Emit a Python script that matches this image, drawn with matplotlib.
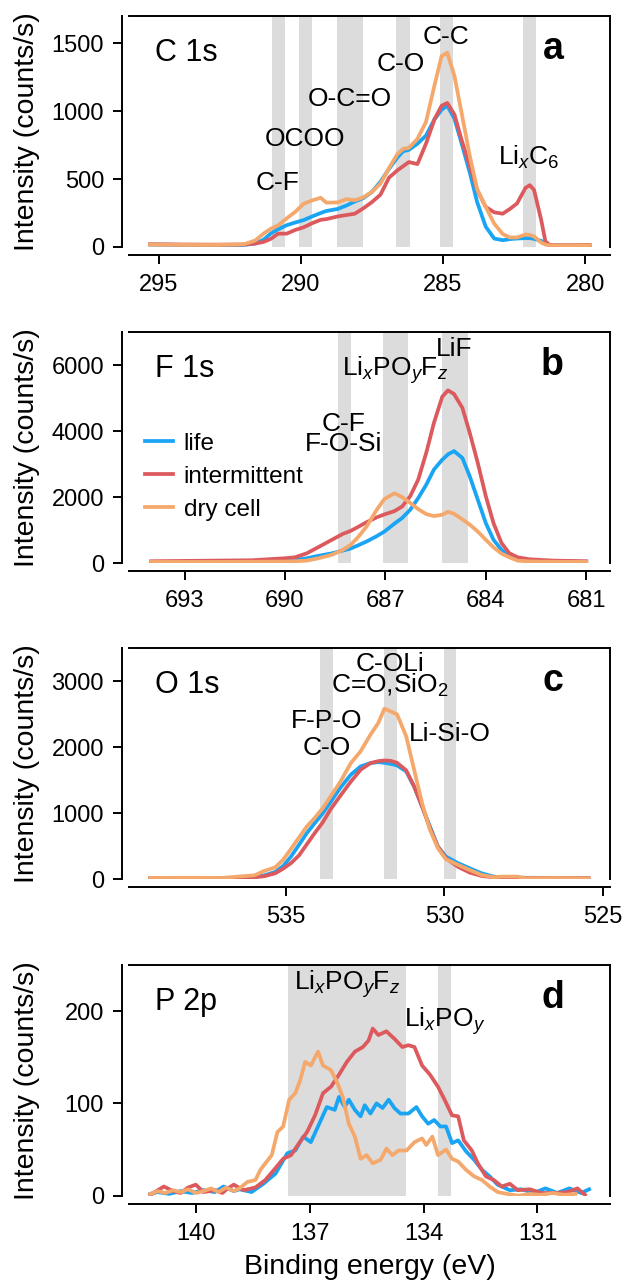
import matplotlib.pyplot as plt

plt.rcParams["font.family"] = ["Liberation Sans", "DejaVu Sans"]
plt.rcParams["mathtext.fontset"] = "custom"
plt.rcParams["mathtext.rm"] = "Liberation Sans"
plt.rcParams["mathtext.it"] = "Liberation Sans:italic"
plt.rcParams["mathtext.bf"] = "Liberation Sans:bold"

BLUE = "#19a4f4"
RED = "#dc5a5d"
ORANGE = "#f5a86b"
BAND = "#dcdcdc"

# ---------------- C 1s ----------------
c1s_energy = [295.3, 294, 293, 292, 291.6, 291.3, 291.05, 290.8, 290.5, 290.2,
              289.9, 289.6, 289.3, 289.1, 288.7, 288.4, 288.1, 287.8, 287.5, 287.2,
              286.9, 286.6, 286.4, 286.2, 285.9, 285.6, 285.3, 285.05, 284.85, 284.6,
              284.35, 284.05, 283.8, 283.5, 283.2, 282.9, 282.65, 282.4, 282.1, 281.95,
              281.8, 281.55, 281.4, 281.25, 281, 280.5, 279.85]
c1s_life = [18, 15, 14, 15, 25, 55, 100, 130, 160, 180,
            198, 225, 250, 265, 280, 305, 335, 360, 405, 480,
            575, 660, 705, 715, 760, 820, 940, 1010, 1040, 945,
            765, 540, 330, 150, 62, 50, 58, 62, 65, 65,
            60, 45, 25, 15, 12, 12, 12]
c1s_intermittent = [20, 18, 17, 18, 25, 38, 60, 98, 98, 125,
                    145, 175, 200, 205, 225, 235, 245, 285, 330, 385,
                    510, 565, 595, 625, 610, 760, 940, 1040, 1060, 975,
                    790, 590, 420, 295, 255, 245, 280, 320, 435, 455,
                    420, 200, 40, 15, 13, 13, 15]
c1s_dry = [18, 15, 15, 20, 48, 100, 135, 158, 210, 258,
           318, 343, 362, 326, 328, 352, 344, 366, 405, 467,
           580, 685, 722, 730, 795, 920, 1190, 1405, 1430, 1260,
           990, 660, 425, 295, 172, 95, 70, 70, 92, 88,
           78, 32, 18, 12, 12, 12, 12]
c1s_bands = [(291.02, 290.56), (290.07, 289.61), (288.73, 287.82),
             (286.66, 286.17), (285.11, 284.66), (282.2, 281.74)]
c1s_labels = [("C-F", 290.81, 420), ("OCOO", 289.86, 744), ("O-C=O", 288.28, 1038),
              ("C-O", 286.48, 1296), ("C-C", 284.90, 1495),
              ("Li$_{x}$C$_{6}$", 281.99, 604)]

# ---------------- F 1s ----------------
f1s_energy = [694.0, 693, 692, 691, 690, 689.7, 689.35, 689.0, 688.6, 688.27,
              688.04, 687.8, 687.56, 687.26, 687.03, 686.73, 686.5, 686.26, 686.02, 685.78,
              685.55, 685.3, 685.13, 684.95, 684.7, 684.48, 684.24, 684.0, 683.77, 683.53,
              683.3, 683.05, 682.7, 682.0, 681.0]
f1s_life = [40, 40, 45, 50, 70, 100, 150, 225, 300, 385,
            445, 550, 660, 820, 960, 1200, 1370, 1620, 1975, 2380,
            2840, 3140, 3300, 3400, 3190, 2635, 1925, 1215, 710, 405,
            200, 120, 80, 55, 45]
f1s_intermittent = [60, 70, 80, 90, 150, 180, 300, 490, 710, 890,
                    980, 1110, 1245, 1390, 1480, 1580, 1720, 2030, 2535, 3345,
                    4255, 5050, 5240, 5130, 4710, 3950, 3040, 2030, 1215, 610,
                    305, 180, 120, 80, 60]
f1s_dry = [40, 40, 40, 45, 50, 60, 80, 150, 255, 405,
           555, 810, 1115, 1620, 1945, 2120, 2005, 1830, 1640, 1490,
           1430, 1470, 1560, 1500, 1330, 1170, 960, 710, 480, 290,
           180, 80, 55, 45, 40]
f1s_bands = [(688.42, 688.02), (687.08, 686.33), (685.31, 684.53)]
f1s_labels = [("LiF", 684.95, 6274), ("Li$_{x}$PO$_{y}$F$_{z}$", 686.71, 5672),
              ("C-F\nF-O-Si", 688.25, 3392)]

# ---------------- O 1s ----------------
o1s_energy = [539.3, 538, 537, 536.4, 536.0, 535.7, 535.35, 535.1, 534.85, 534.6,
              534.35, 534.1, 533.85, 533.6, 533.3, 532.96, 532.65, 532.34, 532.09, 531.9,
              531.71, 531.5, 531.21, 530.96, 530.71, 530.46, 530.21, 529.96, 529.58, 529.2,
              528.83, 528.45, 528.2, 527.7, 527.45, 526.5, 525.45]
o1s_life = [20, 20, 18, 22, 40, 58, 110, 200, 345, 520,
            700, 850, 1000, 1170, 1380, 1585, 1710, 1760, 1775, 1765,
            1750, 1725, 1635, 1405, 1105, 800, 495, 345, 245, 165,
            90, 40, 30, 25, 22, 20, 18]
o1s_intermittent = [20, 20, 18, 20, 30, 45, 90, 160, 245, 360,
                    530, 700, 860, 1060, 1260, 1480, 1660, 1760, 1790, 1800,
                    1795, 1765, 1650, 1405, 1105, 775, 495, 320, 190, 100,
                    50, 30, 25, 20, 20, 18, 18]
o1s_dry = [20, 22, 20, 45, 60, 125, 180, 295, 460, 630,
           800, 930, 1075, 1255, 1470, 1760, 1940, 2190, 2370, 2585,
           2545, 2500, 2165, 1660, 1155, 750, 470, 305, 220, 140,
           65, 30, 40, 40, 15, 18, 15]
o1s_bands = [(533.92, 533.52), (531.91, 531.51), (530.03, 529.63)]
o1s_labels = [("C-OLi\nC=O,SiO$_{2}$", 531.72, 2827),
              ("F-P-O", 533.71, 2296), ("C-O", 533.71, 1886), ("Li-Si-O", 529.83, 2088)]

# ---------------- P 2p ----------------
p2p_life_energy = [141.2, 141.0, 140.7, 140.4, 140.1, 139.8, 139.5, 139.27, 139.0, 138.85,
                   138.53, 138.22, 137.9, 137.59, 137.38, 137.17, 136.97, 136.76, 136.55, 136.34,
                   136.23, 136.08, 135.97, 135.81, 135.66, 135.55, 135.4, 135.24, 135.08, 134.92,
                   134.77, 134.61, 134.4, 134.19, 134.04, 133.88, 133.72, 133.56, 133.41, 133.25,
                   133.09, 132.88, 132.67, 132.46, 132.26, 132.05, 131.73, 131.42, 131.1, 130.79,
                   130.48, 130.16, 129.85, 129.64]
p2p_life = [2, 4, 2, 5, 3, 6, 4, 10, 5, 7,
            4, 13, 24, 46, 49, 64, 58, 77, 96, 93,
            107, 96, 104, 93, 86, 98, 89, 100, 95, 104,
            95, 89, 89, 96, 86, 78, 82, 75, 75, 57,
            60, 48, 39, 28, 21, 12, 6, 7, 3, 8,
            3, 8, 3, 7]
p2p_int_energy = [141.2, 140.84, 140.6, 140.4, 140.2, 140.0, 139.8, 139.48, 139.3, 139.16,
                  139.0, 138.74, 138.43, 138.17, 137.9, 137.7, 137.49, 137.28, 137.07, 136.86,
                  136.65, 136.44, 136.23, 136.02, 135.81, 135.6, 135.45, 135.34, 135.19, 134.98,
                  134.77, 134.56, 134.4, 134.24, 134.04, 133.83, 133.62, 133.46, 133.25, 133.09,
                  132.94, 132.73, 132.57, 132.36, 132.15, 131.94, 131.73, 131.52, 131.2, 130.9,
                  130.5, 130.2, 129.95, 129.75]
p2p_intermittent = [1, 10, 5, 3, 9, 12, 4, 6, 3, 8,
                    12, 6, 9, 17, 30, 40, 44, 57, 69, 87,
                    111, 118, 131, 145, 156, 161, 168, 181, 174, 178,
                    170, 161, 163, 161, 141, 131, 118, 105, 87, 86,
                    60, 49, 35, 21, 17, 10, 13, 6, 7, 3,
                    3, 4, 8, 1]
p2p_dry_energy = [141.2, 141.0, 140.8, 140.6, 140.4, 140.2, 140.0, 139.8, 139.6, 139.4,
                  139.2, 139.0, 138.85, 138.64, 138.43, 138.3, 138.17, 138.0, 137.85, 137.7,
                  137.54, 137.38, 137.25, 137.12, 136.97, 136.78, 136.65, 136.44, 136.28, 136.13,
                  135.97, 135.81, 135.66, 135.5, 135.34, 135.13, 134.98, 134.82, 134.66, 134.45,
                  134.24, 134.04, 133.93, 133.77, 133.62, 133.41, 133.25, 133.09, 132.88, 132.67,
                  132.46, 132.26, 132.05, 131.8, 131.5, 131.2, 130.9, 130.6, 130.3, 130.0]
p2p_dry = [2, 5, 3, 6, 4, 7, 3, 5, 8, 4,
           9, 5, 8, 15, 17, 28, 35, 44, 69, 75,
           104, 111, 125, 145, 141, 156, 141, 136, 123, 107,
           78, 64, 40, 44, 35, 39, 51, 44, 49, 49,
           58, 62, 55, 64, 44, 50, 40, 37, 28, 21,
           17, 10, 4, 2, 0, 2, 1, 3, 1, 2]
p2p_bands = [(137.56, 134.47), (133.62, 133.29)]
p2p_labels = [("Li$_{x}$PO$_{y}$F$_{z}$", 136.01, 223), ("Li$_{x}$PO$_{y}$", 133.44, 183)]

panels = [
    dict(name="C 1s", letter="a", bottom=0.8075, xlim=(296.04, 279.13), ylim=(0, 1700),
         xticks=[295, 290, 285, 280], yticks=[0, 500, 1000, 1500],
         series=[(c1s_energy, c1s_life), (c1s_energy, c1s_intermittent), (c1s_energy, c1s_dry)],
         bands=c1s_bands, labels=c1s_labels),
    dict(name="F 1s", letter="b", bottom=0.5610, xlim=(694.66, 680.29), ylim=(0, 7000),
         xticks=[693, 690, 687, 684, 681], yticks=[0, 2000, 4000, 6000],
         series=[(f1s_energy, f1s_life), (f1s_energy, f1s_intermittent), (f1s_energy, f1s_dry)],
         bands=f1s_bands, labels=f1s_labels),
    dict(name="O 1s", letter="c", bottom=0.3147, xlim=(539.97, 524.77), ylim=(0, 3500),
         xticks=[535, 530, 525], yticks=[0, 1000, 2000, 3000],
         series=[(o1s_energy, o1s_life), (o1s_energy, o1s_intermittent), (o1s_energy, o1s_dry)],
         bands=o1s_bands, labels=o1s_labels),
    dict(name="P 2p", letter="d", bottom=0.0680, xlim=(141.76, 129.09), ylim=(0, 250),
         xticks=[140, 137, 134, 131], yticks=[0, 100, 200],
         series=[(p2p_life_energy, p2p_life), (p2p_int_energy, p2p_intermittent),
                 (p2p_dry_energy, p2p_dry)],
         bands=p2p_bands, labels=p2p_labels),
]
series_names = ["life", "intermittent", "dry cell"]
series_colors = [BLUE, RED, ORANGE]

fig = plt.figure(figsize=(6.25, 12.83), dpi=100)

for p in panels:
    ax = fig.add_axes([0.2064, p["bottom"], 0.7696, 0.18])
    for lo, hi in p["bands"]:
        ax.axvspan(lo, hi, color=BAND, lw=0, zorder=0)
    for (x, y), name, col in zip(p["series"], series_names, series_colors):
        ax.plot(x, y, color=col, lw=2.7, label=name, zorder=2)
    for txt, x, y in p["labels"]:
        ax.text(x, y, txt, fontsize=19, ha="center", va="baseline",
                multialignment="center", linespacing=0.8, zorder=3)

    ax.set_xlim(*p["xlim"])
    ax.set_ylim(*p["ylim"])
    ax.set_xticks(p["xticks"])
    ax.set_yticks(p["yticks"])

    for s in ax.spines.values():
        s.set_linewidth(1.4)
    ax.spines["left"].set_position(("outward", 5))
    ax.spines["bottom"].set_position(("outward", 5.8))
    ax.tick_params(direction="out", length=6.5, width=1.4, labelsize=17)
    ax.tick_params(axis="y", pad=6.5)
    ax.tick_params(axis="x", pad=7)

    ax.text(0.054, 0.805, p["name"], transform=ax.transAxes, fontsize=22, va="baseline")
    ax.text(0.904, 0.815, p["letter"], transform=ax.transAxes, fontsize=27,
            fontweight="bold", ha="right", va="baseline")

    ax.set_ylabel("Intensity (counts/s)", fontsize=20.5)
    ax.yaxis.set_label_coords(-0.185, 0.5)

    if p["letter"] == "b":
        ax.legend(loc="upper left", bbox_to_anchor=(0.033, 0.565), frameon=False,
                  fontsize=17.5, handlelength=1.15, handletextpad=0.45, labelspacing=0.45,
                  borderaxespad=0, borderpad=0)
    if p["letter"] == "d":
        ax.set_xlabel("Binding energy (eV)", fontsize=20.5, labelpad=7)

fig.savefig("out.png", dpi=100)
